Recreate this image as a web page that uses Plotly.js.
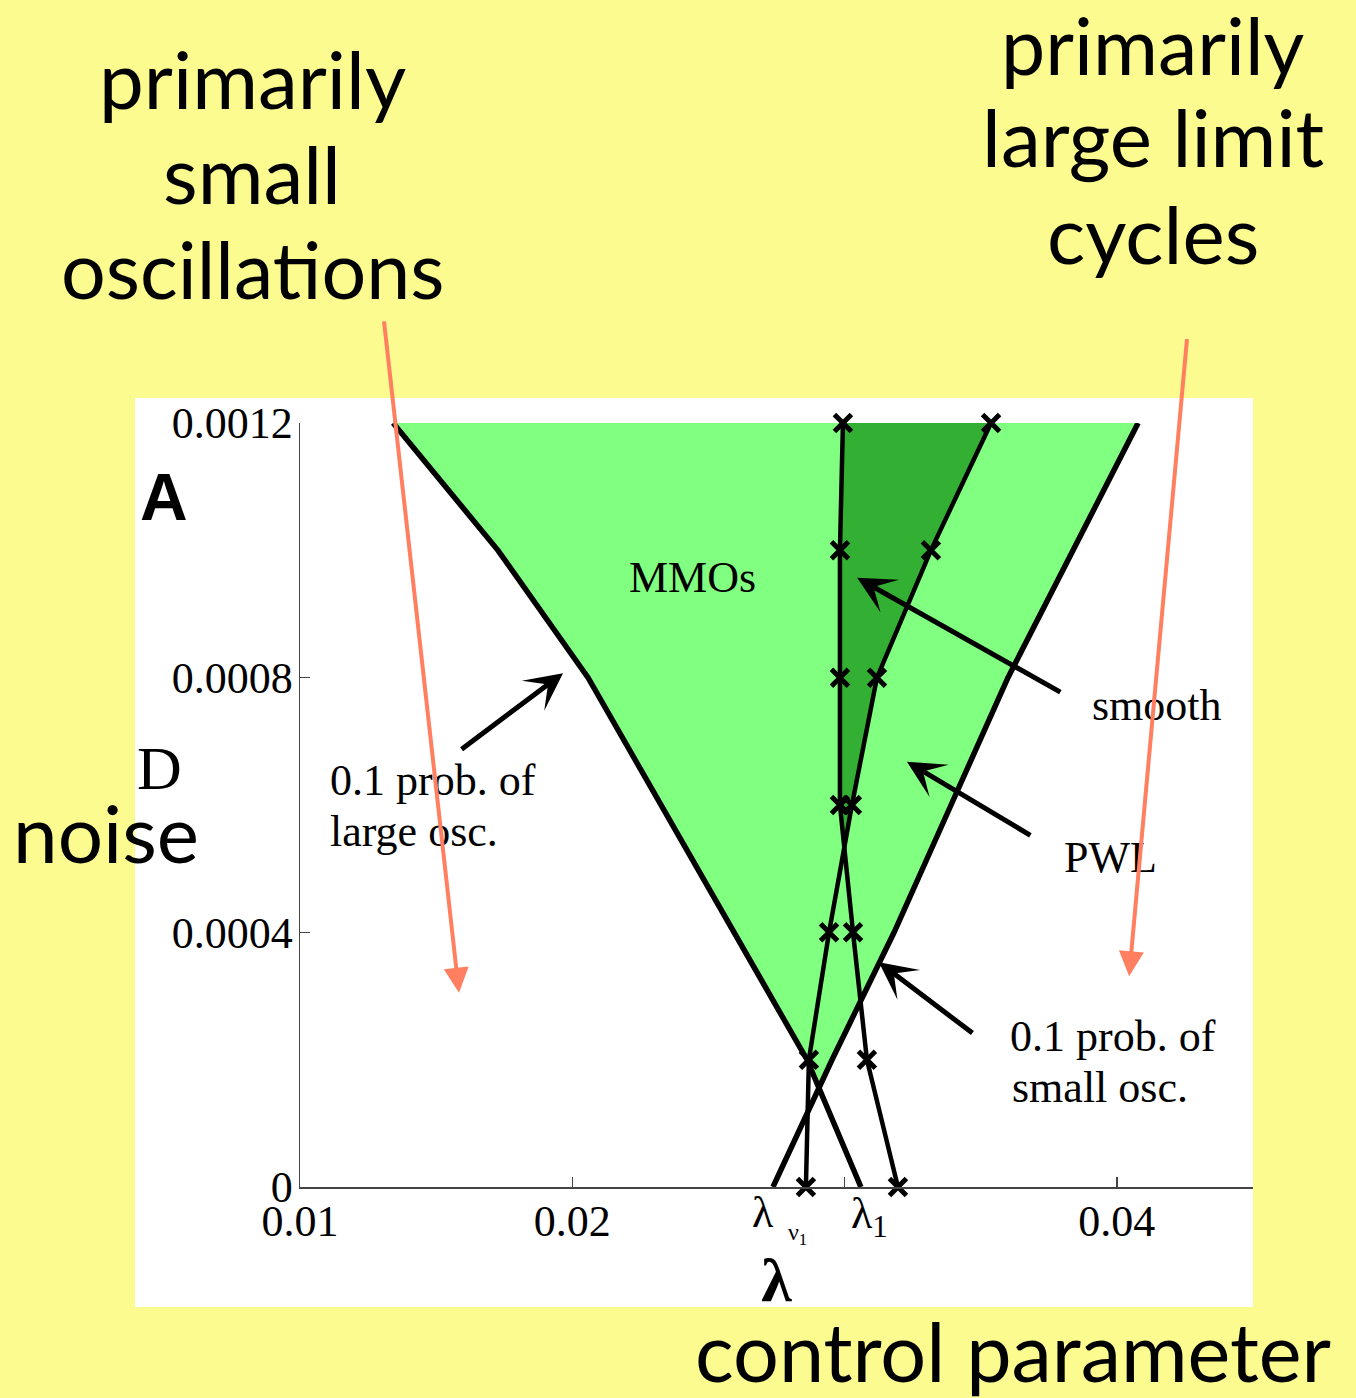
<!DOCTYPE html>
<html>
<head>
<meta charset="utf-8">
<script src="https://cdn.plot.ly/plotly-3.0.1.min.js"></script>
<style>
  html, body { margin: 0; padding: 0; background: #fbfb8f; }
  #chart { width: 1356px; height: 1398px; }
</style>
</head>
<body>
<div id="chart"></div>
<script>
// Noise levels D at which the boundaries were computed
const noiseD = [0.0012, 0.001, 0.0008, 0.0006, 0.0004, 0.0002, 0];

// Control parameter λ of each boundary at those noise levels
const largeOscBoundary = [0.01342, 0.01727, 0.02058, 0.02326, 0.02594, 0.02862, 0.03060]; // 0.1 prob. of large osc.
const smallOscBoundary = [0.04078, 0.03839, 0.03600, 0.03391, 0.03182, 0.02954, 0.02737]; // 0.1 prob. of small osc.
const smoothModel      = [0.02994, 0.02983, 0.02983, 0.02983, 0.03031, 0.03082, 0.03196];
const pwlModel         = [0.03538, 0.03317, 0.03119, 0.03027, 0.02943, 0.02869, 0.02858];

const xTickVals = [0.01, 0.02, 0.03, 0.04];
const xTickText = ['0.01', '0.02', ' ', '0.04'];
const yTickVals = [0, 0.0004, 0.0008, 0.0012];
const yTickText = ['0', '0.0004', '0.0008', '0.0012'];

const SERIF = '"Liberation Serif", "Times New Roman", serif';
const SANS = 'Lato, "Open Sans", sans-serif';
const BOLD_SANS = '"Liberation Sans", Arial, sans-serif';
const YELLOW = '#fbfb8f';
const LIGHT_GREEN = '#80ff80';
const DARK_GREEN = '#33b033';
const SALMON = '#ff7f60';
const AXIS = '#444444';

// Plot frame in pixels (used for placing free text in paper coordinates)
const L = 300, T = 423, W = 953, H = 764;
const pxX = p => (p - L) / W;
const pxY = p => 1 - (p - T) / H;

// Region enclosed between two boundaries, from the top down to where they cross
function wedge(a, b, D) {
  const xs = [], ys = [];
  let k = D.length - 1, cross = null;
  for (let i = 0; i < D.length - 1; i++) {
    const d0 = a[i] - b[i], d1 = a[i + 1] - b[i + 1];
    if (d0 * d1 <= 0 && d0 !== d1) {
      const t = d0 / (d0 - d1);
      cross = { x: a[i] + t * (a[i + 1] - a[i]), y: D[i] + t * (D[i + 1] - D[i]) };
      k = i;
      break;
    }
  }
  for (let i = 0; i <= k; i++) { xs.push(a[i]); ys.push(D[i]); }
  if (cross) { xs.push(cross.x); ys.push(cross.y); }
  for (let i = k; i >= 0; i--) { xs.push(b[i]); ys.push(D[i]); }
  return { x: xs, y: ys };
}

const mmoRegion = wedge(largeOscBoundary, smallOscBoundary, noiseD);
const smoothRegion = wedge(smoothModel, pwlModel, noiseD);

const crossMarker = { symbol: 'x-thin', size: 17, color: '#000', line: { color: '#000', width: 5 } };

const traces = [
  { x: mmoRegion.x, y: mmoRegion.y, mode: 'lines', fill: 'toself',
    fillcolor: LIGHT_GREEN, line: { width: 0 }, hoverinfo: 'skip' },
  { x: smoothRegion.x, y: smoothRegion.y, mode: 'lines', fill: 'toself',
    fillcolor: DARK_GREEN, line: { width: 0 }, hoverinfo: 'skip' },
  { x: largeOscBoundary, y: noiseD, mode: 'lines', name: '0.1 prob. of large osc.',
    line: { color: '#000', width: 5.5 } },
  { x: smallOscBoundary, y: noiseD, mode: 'lines', name: '0.1 prob. of small osc.',
    line: { color: '#000', width: 5.5 } },
  { x: smoothModel, y: noiseD, mode: 'lines+markers', name: 'smooth', cliponaxis: false,
    line: { color: '#000', width: 4.5 }, marker: crossMarker },
  { x: pwlModel, y: noiseD, mode: 'lines+markers', name: 'PWL', cliponaxis: false,
    line: { color: '#000', width: 4.5 }, marker: crossMarker }
];

function label(text, x, y, size, opts) {
  return Object.assign({
    text: text, x: x, y: y, xref: 'x', yref: 'y', showarrow: false,
    xanchor: 'center', yanchor: 'middle',
    font: { family: SERIF, size: size, color: '#000' }
  }, opts || {});
}
function paperText(text, xp, yp, size, family, opts) {
  return Object.assign({
    text: text, x: pxX(xp), y: pxY(yp), xref: 'paper', yref: 'paper', showarrow: false,
    xanchor: 'center', yanchor: 'middle',
    font: { family: family, size: size, color: '#000' }
  }, opts || {});
}
function arrow(x, y, ax, ay, color, width, head, size) {
  return {
    x: x, y: y, ax: ax, ay: ay, xref: 'x', yref: 'y', axref: 'x', ayref: 'y',
    text: '', showarrow: true, arrowcolor: color, arrowwidth: width,
    arrowhead: head, arrowsize: size, standoff: 0, startstandoff: 0
  };
}

const annotations = [
  // labels inside the diagram
  label('MMOs', 0.02440, 0.000957, 44),
  label('smooth', 0.04147, 0.000757, 44),
  label('PWL', 0.03975, 0.000518, 44),
  label('0.1 prob. of', 0.01103, 0.000639, 44, { xanchor: 'left' }),
  label('large osc.', 0.01103, 0.000558, 44, { xanchor: 'left' }),
  label('0.1 prob. of', 0.03600, 0.000237, 44, { xanchor: 'left' }),
  label('small osc.', 0.03607, 0.000157, 44, { xanchor: 'left' }),

  // pointers to the curves
  arrow(0.03046, 0.000957, 0.03798, 0.000776, '#000', 5, 3, 1.25),
  arrow(0.03229, 0.000668, 0.03688, 0.000551, '#000', 5, 3, 1.25),
  arrow(0.01966, 0.000807, 0.01588, 0.000686, '#000', 5, 3, 1.25),
  arrow(0.03126, 0.000353, 0.03475, 0.000240, '#000', 5, 3, 1.25),

  // special λ values under the axis
  paperText('λ', 763, 1212, 44, SERIF),
  paperText('ν<sub>1</sub>', 797, 1234, 24, SERIF),
  paperText('λ<sub>1</sub>', 869, 1216, 44, SERIF),

  // panel letter and axis captions
  paperText('<b>A</b>', 164, 497, 66, BOLD_SANS),
  paperText('D', 159, 768, 62, SERIF),
  paperText('noise', 106, 832, 80, SANS),
  paperText('control parameter', 1013, 1350, 81, SANS),

  paperText('primarily', 252, 78, 80, SANS),
  paperText('small', 252, 173, 80, SANS),
  paperText('oscillations', 252, 268, 79, SANS),

  paperText('primarily', 1153, 45, 79, SANS),
  paperText('large limit', 1153, 136, 80, SANS),
  paperText('cycles', 1153, 233, 80, SANS),

  // regime pointers
  arrow(0.01584, 0.000305, 0.01308, 0.001362, SALMON, 4, 2, 1.25),
  arrow(0.04045, 0.000331, 0.04258, 0.001334, SALMON, 4, 2, 1.25)
];

const layout = {
  width: 1356, height: 1398,
  margin: { l: L, r: 1356 - L - W, t: T, b: 1398 - T - H, pad: 0 },
  paper_bgcolor: YELLOW,
  plot_bgcolor: '#ffffff',
  showlegend: false,
  hovermode: false,
  xaxis: {
    range: [0.01, 0.045], tickmode: 'array', tickvals: xTickVals, ticktext: xTickText,
    ticks: 'inside', ticklen: 10, tickwidth: 1.5, tickcolor: AXIS,
    showline: true, linecolor: AXIS, linewidth: 1.5,
    showgrid: false, zeroline: false, fixedrange: true,
    ticklabelstandoff: -5,
    tickfont: { family: SERIF, size: 44, color: '#000' },
    title: { text: '<b>λ</b>', font: { family: SERIF, size: 62, color: '#000' }, standoff: 12 }
  },
  yaxis: {
    range: [0, 0.0012], tickmode: 'array', tickvals: yTickVals, ticktext: yTickText,
    ticks: 'inside', ticklen: 10, tickwidth: 1.5, tickcolor: AXIS,
    showline: true, linecolor: AXIS, linewidth: 1.5,
    showgrid: false, zeroline: false, fixedrange: true,
    ticklabelstandoff: -3,
    tickfont: { family: SERIF, size: 44, color: '#000' }
  },
  shapes: [
    { type: 'rect', xref: 'paper', yref: 'paper', layer: 'below',
      x0: pxX(135), x1: pxX(1253), y0: pxY(1307), y1: pxY(398),
      fillcolor: '#ffffff', line: { width: 0 } }
  ],
  annotations: annotations
};

Plotly.newPlot('chart', traces, layout, { staticPlot: true, displayModeBar: false });
</script>
</body>
</html>
